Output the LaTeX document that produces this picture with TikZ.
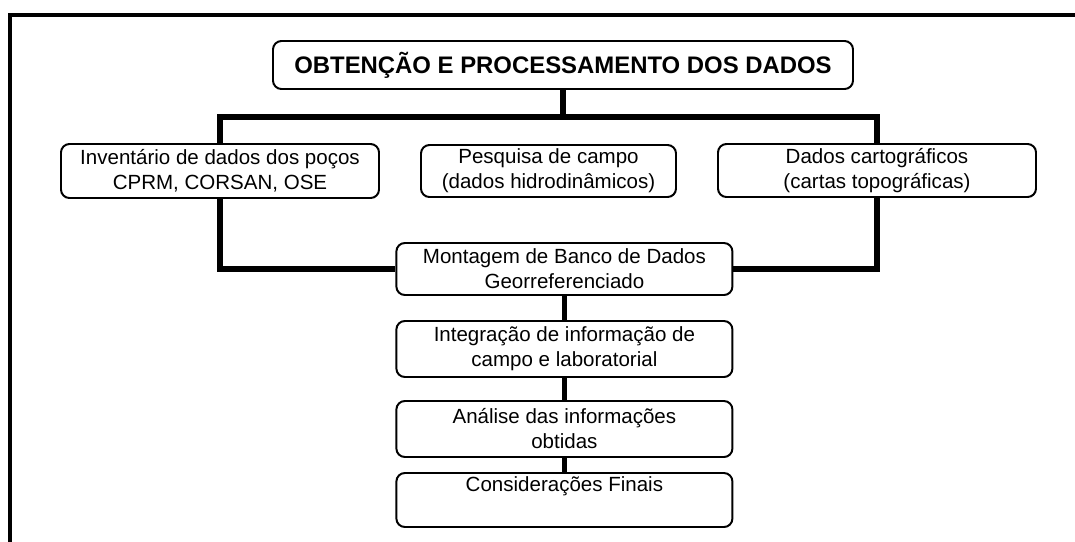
\documentclass[tikz,border=0pt]{standalone}
\usepackage{fontspec}
\setmainfont{Liberation Sans}
\tikzset{
    stage/.style={draw,line width=1.4pt,rounded corners=6pt,align=center,inner sep=2pt,
        font=\fontsize{14.6}{17.8}\selectfont},
    link/.style={line width=3.6pt},
}
\begin{document}
\begin{tikzpicture}
        \useasboundingbox (0,0) rectangle (26.875,-13.525);
        % moldura
        \draw[line width=2.8pt] (0.25,-13.6) -- (0.25,-0.375) -- (26.95,-0.375);

        \node[stage,minimum width=14.5cm,minimum height=1.2cm,font=\fontsize{17}{20}\selectfont\bfseries]
            (obt) at (14.075,-1.625) {OBTENÇÃO E PROCESSAMENTO DOS DADOS};

        \node[stage,minimum width=7.95cm,minimum height=1.35cm] (inv) at (5.5,-4.275)
            {Inventário de dados dos poços\\CPRM, CORSAN, OSE};
        \node[stage,minimum width=6.375cm,minimum height=1.3cm] (pesq) at (13.7125,-4.275)
            {Pesquisa de campo\\(dados hidrodinâmicos)};
        \node[stage,minimum width=7.95cm,minimum height=1.325cm] (cart) at (21.925,-4.2625)
            {Dados cartográficos\\(cartas topográficas)};

        \node[stage,minimum width=8.4cm,minimum height=1.3cm] (mont) at (14.11,-6.725)
            {Montagem de Banco de Dados\\Georreferenciado};
        \node[stage,minimum width=8.4cm,minimum height=1.4cm] (integ) at (14.11,-8.725)
            {Integração de informação de\\campo e laboratorial};
        \node[stage,minimum width=8.4cm,minimum height=1.4cm] (anal) at (14.11,-10.725)
            {Análise das informações\\obtidas};
        \node[stage,minimum width=8.4cm,minimum height=1.35cm] (cons) at (14.11,-12.5)
            {Considerações Finais\\\strut};

        \coordinate (bus) at (14.075,-2.925);
        \draw[link] (obt.south) -- (bus);
        \draw[link] (inv.north) |- (bus) -| (cart.north);
        \draw[link] (inv.south) |- (mont.west);
        \draw[link] (cart.south) |- (mont.east);
        \draw[link] (mont.south) -- (integ.north);
        \draw[link] (integ.south) -- (anal.north);
        \draw[link] (anal.south) -- (cons.north);
    \end{tikzpicture}
\end{document}
